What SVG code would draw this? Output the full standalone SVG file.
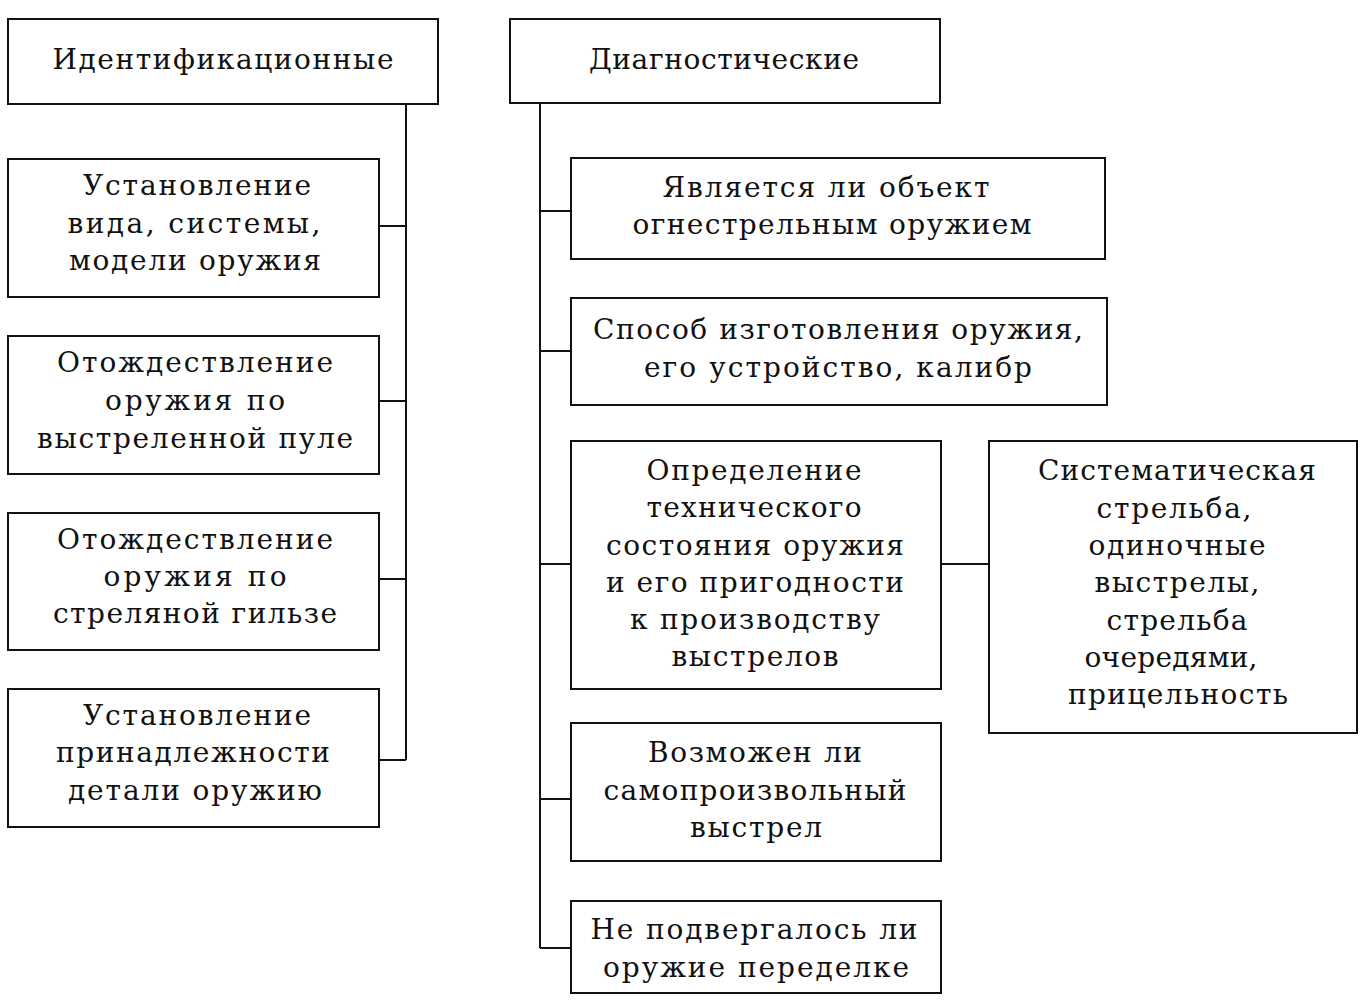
<svg xmlns="http://www.w3.org/2000/svg" width="1368" height="1007" viewBox="0 0 1368 1007">
<style>
.box{fill:#ffffff;stroke:#111111;stroke-width:2}
.ln{fill:none;stroke:#111111;stroke-width:2}
text{font-family:"DejaVu Serif","Liberation Serif",serif;font-size:28px;fill:#111111;text-anchor:middle}
</style>
<rect width="1368" height="1007" fill="#ffffff"/>
<g id="connectors">
<path class="ln" d="M406,104 V760 M379,226 H406 M379,401 H406 M379,579 H406 M379,760 H406"/>
<path class="ln" d="M540,103 V948 M540,211 H571 M540,351 H571 M540,564 H571 M540,799 H571 M540,948 H571 M941,564 H989"/>
</g>
<g id="n-ident">
<rect class="box" x="8" y="19" width="430" height="85"/>
<text x="223" y="69" textLength="341" lengthAdjust="spacing">Идентификационные</text>
</g>
<g id="n-diag">
<rect class="box" x="510" y="19" width="430" height="84"/>
<text x="724" y="69" textLength="270" lengthAdjust="spacing">Диагностические</text>
</g>
<g id="n-l1">
<rect class="box" x="8" y="159" width="371" height="138"/>
<text x="197" y="195" textLength="228" lengthAdjust="spacing">Установление</text>
<text x="194" y="233" textLength="253" lengthAdjust="spacing">вида,  системы,</text>
<text x="195" y="270" textLength="252" lengthAdjust="spacing">модели оружия</text>
</g>
<g id="n-l2">
<rect class="box" x="8" y="336" width="371" height="138"/>
<text x="195" y="372" textLength="276" lengthAdjust="spacing">Отождествление</text>
<text x="195" y="410" textLength="180" lengthAdjust="spacing">оружия  по</text>
<text x="195" y="448" textLength="316" lengthAdjust="spacing">выстреленной пуле</text>
</g>
<g id="n-l3">
<rect class="box" x="8" y="513" width="371" height="137"/>
<text x="195" y="549" textLength="276" lengthAdjust="spacing">Отождествление</text>
<text x="195" y="586" textLength="183" lengthAdjust="spacing">оружия  по</text>
<text x="195" y="623" textLength="284" lengthAdjust="spacing">стреляной гильзе</text>
</g>
<g id="n-l4">
<rect class="box" x="8" y="689" width="371" height="138"/>
<text x="197" y="725" textLength="228" lengthAdjust="spacing">Установление</text>
<text x="193" y="762" textLength="274" lengthAdjust="spacing">принадлежности</text>
<text x="195" y="800" textLength="254" lengthAdjust="spacing">детали оружию</text>
</g>
<g id="n-r1">
<rect class="box" x="571" y="158" width="534" height="101"/>
<text x="826" y="197" textLength="327" lengthAdjust="spacing">Является ли объект</text>
<text x="832" y="234" textLength="399" lengthAdjust="spacing">огнестрельным оружием</text>
</g>
<g id="n-r2">
<rect class="box" x="571" y="298" width="536" height="107"/>
<text x="838" y="339" textLength="490" lengthAdjust="spacing">Способ  изготовления  оружия,</text>
<text x="838" y="377" textLength="388" lengthAdjust="spacing">его  устройство,  калибр</text>
</g>
<g id="n-r3">
<rect class="box" x="571" y="441" width="370" height="248"/>
<text x="754" y="480" textLength="215" lengthAdjust="spacing">Определение</text>
<text x="754" y="517" textLength="215" lengthAdjust="spacing">технического</text>
<text x="755" y="555" textLength="298" lengthAdjust="spacing">состояния оружия</text>
<text x="755" y="592" textLength="298" lengthAdjust="spacing">и его пригодности</text>
<text x="755" y="629" textLength="250" lengthAdjust="spacing">к производству</text>
<text x="755" y="666" textLength="167" lengthAdjust="spacing">выстрелов</text>
</g>
<g id="n-r3b">
<rect class="box" x="989" y="441" width="368" height="292"/>
<text x="1177" y="480" textLength="278" lengthAdjust="spacing">Систематическая</text>
<text x="1174" y="518" textLength="155" lengthAdjust="spacing">стрельба,</text>
<text x="1177" y="555" textLength="177" lengthAdjust="spacing">одиночные</text>
<text x="1177" y="592" textLength="165" lengthAdjust="spacing">выстрелы,</text>
<text x="1177" y="630" textLength="141" lengthAdjust="spacing">стрельба</text>
<text x="1171" y="667" textLength="173" lengthAdjust="spacing">очередями,</text>
<text x="1178" y="704" textLength="220" lengthAdjust="spacing">прицельность</text>
</g>
<g id="n-r4">
<rect class="box" x="571" y="723" width="370" height="138"/>
<text x="755" y="762" textLength="214" lengthAdjust="spacing">Возможен ли</text>
<text x="755" y="800" textLength="303" lengthAdjust="spacing">самопроизвольный</text>
<text x="756" y="837" textLength="132" lengthAdjust="spacing">выстрел</text>
</g>
<g id="n-r5">
<rect class="box" x="571" y="901" width="370" height="92"/>
<text x="754" y="939" textLength="327" lengthAdjust="spacing">Не  подвергалось  ли</text>
<text x="756" y="977" textLength="306" lengthAdjust="spacing">оружие  переделке</text>
</g>
</svg>
